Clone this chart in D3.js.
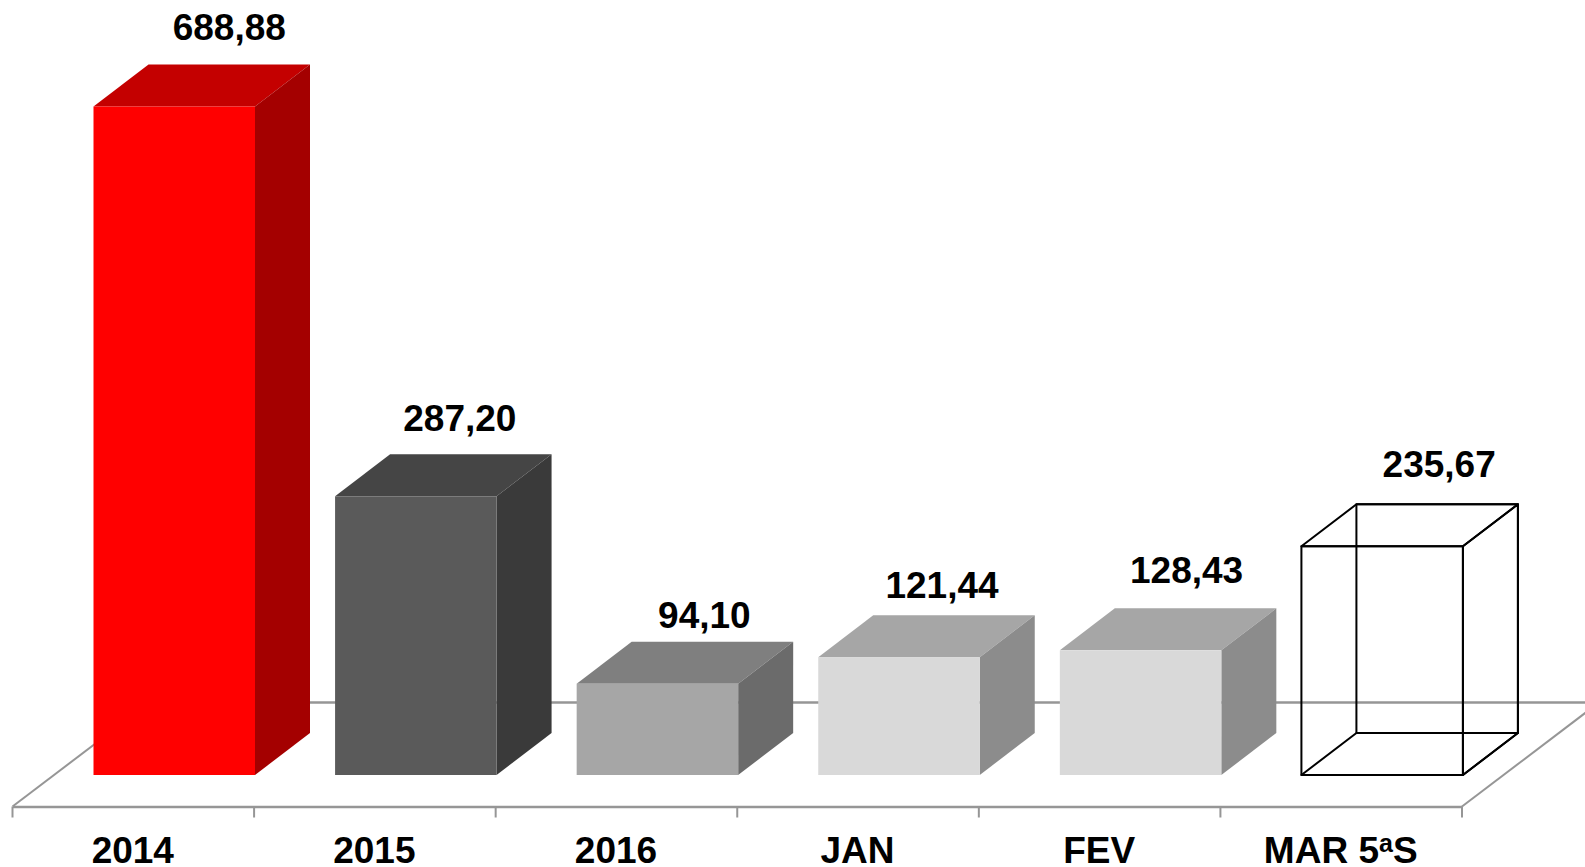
<!DOCTYPE html>
<html><head><meta charset="utf-8">
<script src="https://cdn.jsdelivr.net/npm/d3@7"></script>
<style>html,body{margin:0;padding:0;background:#fff;overflow:hidden}svg{display:block}text{font-family:"Liberation Sans",Arial,sans-serif;font-weight:bold;fill:#000}</style>
</head><body><svg id="c" width="1585" height="867"></svg>
<script>
const categories = ["2014","2015","2016","JAN","FEV","MAR 5ªS"];
const values = [688.88,287.20,94.10,121.44,128.43,235.67];
const valueLabels = ["688,88","287,20","94,10","121,44","128,43","235,67"];
const frontColors = ["#ff0000","#5a5a5a","#a6a6a6","#d9d9d9","#d9d9d9","none"];
const topColors = ["#c40000","#454545","#7f7f7f","#a6a6a6","#a6a6a6","none"];
const sideColors = ["#a40000","#3a3a3a","#6b6b6b","#8c8c8c","#8c8c8c","none"];
// hand-placed label offsets, as in the reference
const labelNudgeX = [0,-11,-8,-12,-9,2];
const labelNudgeY = [1,3,12,9,1,-1];

const svg = d3.select("#c");
const dx = 55, dy = 42;
const x = d3.scaleBand().domain(categories).range([12.5,1462]);
const y = d3.scaleLinear().domain([0,688.88]).range([775,106.5]);
const barW = 161.5, inset = 81;
const floorY = 806.5, floorDx = 137, floorDy = 104;
const grey = "#969696";
const line = (a,b,c,d,col,w)=>svg.append("line").attr("x1",a).attr("y1",b).attr("x2",c).attr("y2",d).attr("stroke",col).attr("stroke-width",w);

// floor
line(12.5,floorY,12.5+floorDx,floorY-floorDy,grey,2);
line(12.5+floorDx,floorY-floorDy,1462+floorDx,floorY-floorDy,grey,2.4);
line(1462,floorY,1462+floorDx,floorY-floorDy,grey,2);

// axis
const axis = d3.axisBottom(x).tickSize(0).tickPadding(0);
const ax = svg.append("g").attr("transform",`translate(0,${floorY})`).call(axis);
ax.select(".domain").attr("stroke",grey).attr("stroke-width",2.4);
ax.selectAll(".tick text").attr("y",0).attr("dy",0).attr("transform","translate(-0.5,56.5)")
  .style("font-size","37px").style("font-family",'"Liberation Sans",Arial,sans-serif').style("font-weight","bold")
  .attr("fill","#000").attr("text-anchor","middle")
  .each(function(d){
    if(d.includes("ª")){
      const t=d3.select(this).text(null);
      const p=d.split("ª");
      t.append("tspan").text(p[0]);
      t.append("tspan").attr("dy",-11).style("font-size","25px").text("a");
      t.append("tspan").attr("dy",11).text(p[1]);
    }
  });
categories.map(c=>x(c)).concat([x.range()[1]]).forEach(t=>line(t,floorY,t,floorY+11,grey,2));

// bars
const poly = pts=>pts.map(p=>p.join(",")).join(" ");
categories.forEach((c,i)=>{
  const l=x(c)+inset, r=l+barW, t=y(values[i]), b=y(0);
  const g=svg.append("g");
  if(frontColors[i]==="none"){
    const faces=[
      [[l+dx,t-dy],[r+dx,t-dy],[r+dx,b-dy],[l+dx,b-dy]],
      [[l,t],[l+dx,t-dy],[r+dx,t-dy],[r,t]],
      [[r,t],[r+dx,t-dy],[r+dx,b-dy],[r,b]],
      [[l,b],[l+dx,b-dy],[r+dx,b-dy],[r,b]],
      [[l,t],[r,t],[r,b],[l,b]]
    ];
    faces.forEach(f=>g.append("polygon").attr("points",poly(f)).attr("fill","none").attr("stroke","#000").attr("stroke-width",2).attr("stroke-linejoin","round"));
  } else {
    g.append("polygon").attr("points",poly([[l,t],[l+dx,t-dy],[r+dx,t-dy],[r,t]])).attr("fill",topColors[i]);
    g.append("polygon").attr("points",poly([[r,t],[r+dx,t-dy],[r+dx,b-dy],[r,b]])).attr("fill",sideColors[i]);
    g.append("rect").attr("x",l).attr("y",t).attr("width",barW).attr("height",b-t).attr("fill",frontColors[i]);
  }
  svg.append("text").attr("x",(l+r)/2+dx+labelNudgeX[i]).attr("y",t-dy-26+labelNudgeY[i]).attr("text-anchor","middle").style("font-size","37px").text(valueLabels[i]);
});
</script></body></html>
